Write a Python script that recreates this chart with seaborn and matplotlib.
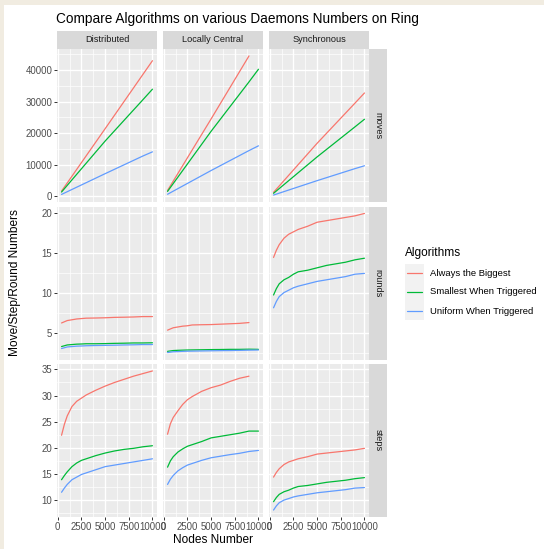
import numpy as np
import pandas as pd
import matplotlib
matplotlib.use("Agg")
import matplotlib.pyplot as plt
import seaborn as sns
from matplotlib.patches import Rectangle
from matplotlib.lines import Line2D

# ---------------- data ----------------
algorithms = ["Always the Biggest", "Smallest When Triggered", "Uniform When Triggered"]
daemons = ["Distributed", "Locally Central", "Synchronous"]
metrics = ["moves", "rounds", "steps"]
palette = ["#F8766D", "#00BA38", "#619CFF"]

moves_x = [400, 5000, 9000, 10000]
curve_x = [400, 700, 1000, 1500, 2000, 2500, 3000, 4000, 5000, 6000, 7000, 8000, 9000, 10000]

nan = float("nan")

# moves
moves_dist_big = [1700, 21400, 38600, 42900]
moves_dist_small = [1400, 17500, 30600, 33900]
moves_dist_unif = [650, 7200, 12800, 14100]
moves_lc_big = [1900, 24500, 44400, nan]
moves_lc_small = [1600, 20600, 36200, 40200]
moves_lc_unif = [700, 8200, 14500, 16000]
moves_sync_big = [1300, 16800, 29500, 32700]
moves_sync_small = [1000, 12500, 22000, 24400]
moves_sync_unif = [450, 5000, 8800, 9700]

# rounds
rounds_dist_big = [6.2, 6.35, 6.5, 6.6, 6.7, 6.75, 6.8, 6.82, 6.85, 6.9, 6.92, 6.95, 7.0, 7.0]
rounds_dist_small = [3.25, 3.35, 3.45, 3.5, 3.55, 3.57, 3.6, 3.6, 3.62, 3.65, 3.67, 3.7, 3.7, 3.72]
rounds_dist_unif = [3.0, 3.1, 3.2, 3.25, 3.3, 3.32, 3.35, 3.38, 3.4, 3.42, 3.45, 3.47, 3.5, 3.5]
rounds_lc_big = [5.3, 5.45, 5.6, 5.7, 5.8, 5.85, 5.95, 5.98, 6.0, 6.05, 6.1, 6.15, 6.25, nan]
rounds_lc_small = [2.65, 2.7, 2.75, 2.78, 2.8, 2.82, 2.83, 2.85, 2.87, 2.88, 2.9, 2.9, 2.92, 2.9]
rounds_lc_unif = [2.5, 2.55, 2.6, 2.62, 2.65, 2.67, 2.68, 2.7, 2.72, 2.74, 2.75, 2.77, 2.8, 2.82]
rounds_sync_big = [14.4, 15.3, 16.0, 16.8, 17.3, 17.6, 17.9, 18.3, 18.8, 19.0, 19.2, 19.4, 19.6, 19.9]
rounds_sync_small = [9.7, 10.5, 11.1, 11.6, 11.9, 12.3, 12.6, 12.8, 13.1, 13.4, 13.6, 13.8, 14.1, 14.3]
rounds_sync_unif = [8.1, 8.9, 9.5, 10.0, 10.3, 10.6, 10.8, 11.1, 11.4, 11.6, 11.8, 12.0, 12.3, 12.4]

# steps
steps_dist_big = [22.4, 24.5, 26.1, 27.9, 28.9, 29.5, 30.1, 31.0, 31.8, 32.5, 33.1, 33.7, 34.2, 34.7]
steps_dist_small = [13.9, 14.7, 15.4, 16.4, 17.1, 17.6, 17.9, 18.5, 19.0, 19.4, 19.7, 19.9, 20.2, 20.4]
steps_dist_unif = [11.5, 12.3, 13.0, 13.9, 14.4, 14.9, 15.2, 15.8, 16.4, 16.7, 17.0, 17.3, 17.6, 17.9]
steps_lc_big = [22.6, 24.6, 25.8, 27.1, 28.3, 29.2, 29.8, 30.8, 31.5, 32.0, 32.7, 33.3, 33.7, nan]
steps_lc_small = [16.3, 17.5, 18.3, 19.2, 19.8, 20.3, 20.6, 21.2, 21.9, 22.2, 22.5, 22.8, 23.2, 23.2]
steps_lc_unif = [13.0, 14.0, 14.7, 15.6, 16.2, 16.7, 17.0, 17.6, 18.1, 18.4, 18.7, 18.95, 19.3, 19.5]
steps_sync_big = [14.4, 15.3, 16.0, 16.8, 17.3, 17.6, 17.9, 18.3, 18.8, 19.0, 19.2, 19.4, 19.6, 19.9]
steps_sync_small = [9.7, 10.5, 11.1, 11.6, 11.9, 12.3, 12.6, 12.8, 13.1, 13.4, 13.6, 13.8, 14.1, 14.3]
steps_sync_unif = [8.1, 8.9, 9.5, 10.0, 10.3, 10.6, 10.8, 11.1, 11.4, 11.6, 11.8, 12.0, 12.3, 12.4]

series = {
    ("moves", "Distributed"): (moves_x, [moves_dist_big, moves_dist_small, moves_dist_unif]),
    ("moves", "Locally Central"): (moves_x, [moves_lc_big, moves_lc_small, moves_lc_unif]),
    ("moves", "Synchronous"): (moves_x, [moves_sync_big, moves_sync_small, moves_sync_unif]),
    ("rounds", "Distributed"): (curve_x, [rounds_dist_big, rounds_dist_small, rounds_dist_unif]),
    ("rounds", "Locally Central"): (curve_x, [rounds_lc_big, rounds_lc_small, rounds_lc_unif]),
    ("rounds", "Synchronous"): (curve_x, [rounds_sync_big, rounds_sync_small, rounds_sync_unif]),
    ("steps", "Distributed"): (curve_x, [steps_dist_big, steps_dist_small, steps_dist_unif]),
    ("steps", "Locally Central"): (curve_x, [steps_lc_big, steps_lc_small, steps_lc_unif]),
    ("steps", "Synchronous"): (curve_x, [steps_sync_big, steps_sync_small, steps_sync_unif]),
}

rows = []
for (metric, daemon), (xs, ys_list) in series.items():
    for alg, ys in zip(algorithms, ys_list):
        for xv, yv in zip(xs, ys):
            rows.append((metric, daemon, alg, xv, yv))
df = pd.DataFrame(rows, columns=["metric", "daemon", "algorithm", "nodes", "value"]).dropna()

x_ticks = [0, 2500, 5000, 7500, 10000]
x_tick_labels = ["0", "2500", "5000", "7500", "10000"]
y_ticks = {"moves": [0, 10000, 20000, 30000, 40000],
           "rounds": [5, 10, 15, 20],
           "steps": [10, 15, 20, 25, 30, 35]}

# ---------------- style ----------------
sns.set_theme(style="white")
plt.rcParams["font.family"] = ["Liberation Sans", "DejaVu Sans"]

W, H = 544, 549
fig = plt.figure(figsize=(W / 100, H / 100), dpi=100)
fig.patch.set_facecolor("white")


def rect(x0, y0, x1, y1):
    return [x0 / W, 1 - y1 / H, (x1 - x0) / W, (y1 - y0) / H]


# beige frame
fig.patches.append(Rectangle((0, 1 - 5 / H), 1, 5 / H, transform=fig.transFigure,
                             facecolor="#F1ECE1", edgecolor="none", zorder=0))
fig.patches.append(Rectangle((0, 0), 4 / W, 1, transform=fig.transFigure,
                             facecolor="#F1ECE1", edgecolor="none", zorder=0))

col_edges = [(57, 157), (163, 263), (269, 369)]
row_edges = [(49, 202), (206.5, 359.5), (364, 517)]

xmin, xmax = df["nodes"].min(), df["nodes"].max()
xpad = 0.05 * (xmax - xmin)
xlim = (xmin - xpad, xmax + xpad)

grid_major = dict(color="white", lw=1.0)
grid_minor = dict(color="white", lw=0.5)

for ri, metric in enumerate(metrics):
    sub_m = df[df["metric"] == metric]
    ymin, ymax = sub_m["value"].min(), sub_m["value"].max()
    ypad = 0.05 * (ymax - ymin)
    ylim = (ymin - ypad, ymax + ypad)
    yt = y_ticks[metric]
    ystep = yt[1] - yt[0]
    for ci, daemon in enumerate(daemons):
        x0, x1 = col_edges[ci]
        y0, y1 = row_edges[ri]
        ax = fig.add_axes(rect(x0, y0, x1, y1))
        ax.set_facecolor("#EBEBEB")
        for s in ax.spines.values():
            s.set_visible(False)
        ax.set_xlim(*xlim)
        ax.set_ylim(*ylim)
        # grid lines (major + minor)
        for xv in x_ticks:
            ax.axvline(xv, zorder=0.5, **grid_major)
        for xv in np.arange(x_ticks[0] - 1250, x_ticks[-1] + 2500, 2500):
            ax.axvline(xv, zorder=0.4, **grid_minor)
        for yv in yt:
            ax.axhline(yv, zorder=0.5, **grid_major)
        for yv in np.arange(yt[0] - ystep / 2, yt[-1] + ystep, ystep):
            ax.axhline(yv, zorder=0.4, **grid_minor)

        sub = sub_m[sub_m["daemon"] == daemon]
        sns.lineplot(data=sub, x="nodes", y="value", hue="algorithm",
                     hue_order=algorithms, palette=palette, ax=ax,
                     legend=False, estimator=None, lw=0.9, zorder=2)
        ax.set_xlabel("")
        ax.set_ylabel("")
        ax.set_xticks(x_ticks)
        ax.set_yticks(yt)
        ax.tick_params(axis="both", which="major", length=2.2, width=0.7,
                       color="#333333", labelcolor="#4D4D4D", labelsize=6.9, pad=1.3)
        ax.tick_params(axis="x", bottom=(ri == 2), labelbottom=(ri == 2))
        ax.tick_params(axis="y", left=(ci == 0), labelleft=(ci == 0))
        if ri == 2:
            ax.set_xticklabels(x_tick_labels)
        if ci == 0:
            ax.set_yticklabels([str(v) for v in yt])

        # column strips
        if ri == 0:
            sax = fig.add_axes(rect(x0, 31, x1, 49))
            sax.set_facecolor("#D9D9D9")
            sax.set_xticks([]); sax.set_yticks([])
            for s in sax.spines.values():
                s.set_visible(False)
            sax.text(0.5, 0.5, daemon, ha="center", va="center", fontsize=6.6,
                     color="#1A1A1A", transform=sax.transAxes)
    # row strips
    y0, y1 = row_edges[ri]
    sax = fig.add_axes(rect(369, y0, 387, y1))
    sax.set_facecolor("#D9D9D9")
    sax.set_xticks([]); sax.set_yticks([])
    for s in sax.spines.values():
        s.set_visible(False)
    sax.text(0.5, 0.5, metric, ha="center", va="center", fontsize=6.6, rotation=-90,
             color="#1A1A1A", transform=sax.transAxes)

# title and axis labels
fig.text(56 / W, 1 - 18.5 / H, "Compare Algorithms on various Daemons Numbers on Ring",
         ha="left", va="center", fontsize=9.8, color="black")
fig.text(213 / W, 1 - 540 / H, "Nodes Number", ha="center", va="center",
         fontsize=8.6, color="black")
fig.text(15 / W, 1 - 283 / H, "Move/Step/Round Numbers", ha="center", va="center",
         fontsize=8.6, rotation=90, color="black")

# legend
fig.text(405 / W, 1 - 253 / H, "Algorithms", ha="left", va="center", fontsize=8.6,
         color="black")
key_ys = [273, 292, 311]
lax = fig.add_axes(rect(405, 264, 424, 320))
lax.set_xlim(405, 424)
lax.set_ylim(320, 264)
lax.set_facecolor("#F2F2F2")
lax.set_xticks([]); lax.set_yticks([])
for s in lax.spines.values():
    s.set_visible(False)
for ky, col, lab in zip(key_ys, palette, algorithms):
    lax.add_line(Line2D([407, 422], [ky, ky], color=col, lw=0.9))
    fig.text(430 / W, 1 - ky / H, lab, ha="left", va="center", fontsize=6.8,
             color="black")

fig.savefig("out.png", dpi=100)
